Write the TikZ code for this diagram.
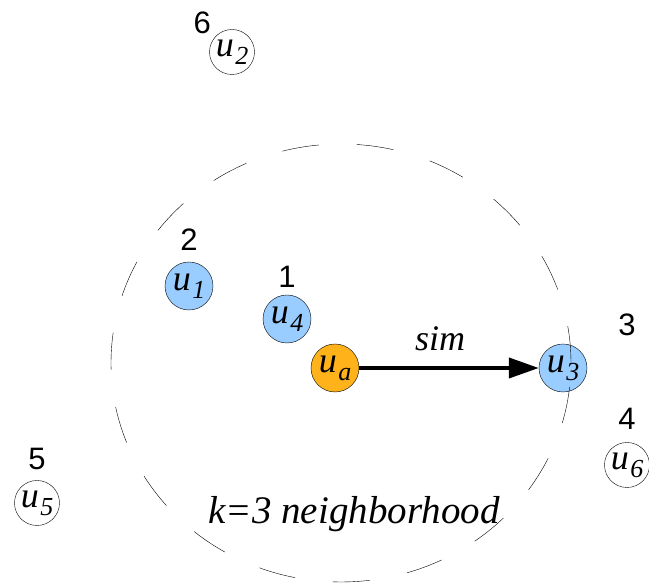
\documentclass[tikz,border=0pt]{standalone}
\usepackage{fontspec}
\setmainfont{Liberation Serif}
\setsansfont{Liberation Sans}
\usetikzlibrary{positioning, arrows.meta, shapes.geometric}
\definecolor{nbrblue}{RGB}{153,204,255}
\definecolor{queryorange}{RGB}{255,178,26}
\newcommand{\usr}[1]{u\kern1.5pt\raisebox{-8pt}{\fontsize{26}{26}\selectfont #1}}

\begin{document}
\begin{tikzpicture}[
  x=1pt, y=1pt,
  user/.style={draw=black, circle, minimum size=48pt, inner sep=0pt,
    font=\fontsize{36}{36}\selectfont\itshape},
  nbr/.style={user, fill=nbrblue},
  query/.style={user, fill=queryorange},
  far/.style={user, minimum size=45pt, fill=white},
  hood/.style={draw=black, ellipse, dash pattern=on 37pt off 38pt,
    minimum width=460pt, minimum height=438pt},
  flow/.style={-{Triangle[length=30pt, width=20pt]}, line width=4pt},
  rank/.style={font=\sffamily\fontsize{31}{31}\selectfont, inner sep=0pt},
  lbl/.style={font=\fontsize{36}{36}\selectfont\itshape, inner sep=0pt}
]
  \useasboundingbox (0,0) rectangle (649,586);

  % query user and its neighbours
  \node[query] (ua) at (335,218) {\usr{a}};
  \node[nbr] (u4) at (287,267) {\usr{4}};
  \node[nbr] (u1) at (189,300) {\usr{1}};
  \node[nbr] (u3) at (563,218) {\usr{3}};

  % users outside the neighbourhood
  \node[far] (u2) at (232,534) {\usr{2}};
  \node[far] (u6) at (627,121) {\usr{6}};
  \node[far] (u5) at (37,83) {\usr{5}};

  % ranks by similarity
  \node[rank, above=7pt of u4] (r1) {1};
  \node[rank, above=11pt of u1] (r2) {2};
  \node[rank, above right=15pt and 38pt of u3] (r3) {3};
  \node[rank, above=13pt of u6] (r4) {4};
  \node[rank, above=10pt of u5] (r5) {5};
  \node[rank, above left=2pt and 5pt of u2] (r6) {6};

  \draw[flow] (ua) -- node[lbl, above=15pt, pos=0.45] (sim) {sim} (u3);

  % the k nearest
  \node[hood] (hood) at (341,223) {};
  \node[lbl, font=\fontsize{39}{39}\selectfont\itshape] (hoodlbl) at (354,72) {k=3 neighborhood};
\end{tikzpicture}
\end{document}
